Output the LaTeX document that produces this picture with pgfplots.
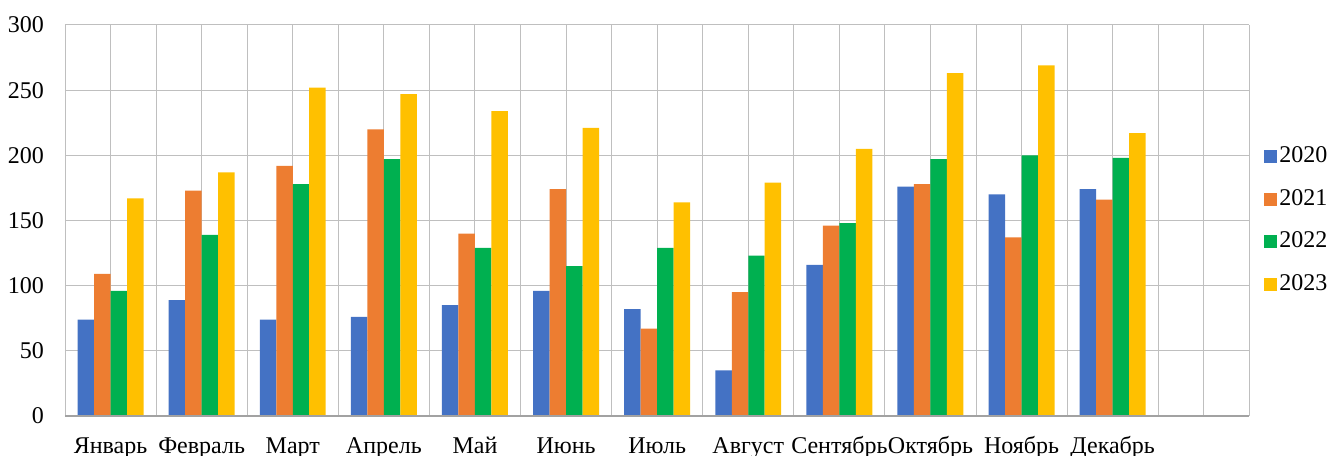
\documentclass[border=0pt]{standalone}
\usepackage{pgfplots}
\pgfplotsset{compat=1.18}
\usepackage{fontspec}
\setmainfont{Liberation Serif}

\definecolor{c20}{HTML}{4472C4}
\definecolor{c21}{HTML}{ED7D31}
\definecolor{c22}{HTML}{00B050}
\definecolor{c23}{HTML}{FFC000}
\definecolor{gridc}{HTML}{BFBFBF}

% x: 0 = Январь ... 11 = Декабрь (12 is the empty slot)
\pgfplotstableread{
x y20 y21 y22 y23
0  74 109  96 167
1  89 173 139 187
2  74 192 178 252
3  76 220 197 247
4  85 140 129 234
5  96 174 115 221
6  82  67 129 164
7  35  95 123 179
8 116 146 148 205
9 176 178 197 263
10 170 137 200 269
11 174 166 198 217
}\datatable

\begin{document}
\fontsize{24bp}{28bp}\selectfont
\begin{tikzpicture}
\path[use as bounding box] (-65bp,-40bp) rectangle (1268bp,416bp);
\begin{axis}[
    at={(0,0)}, anchor=south west,
    scale only axis,
    width=1184.3bp, height=391bp,
    xmin=-0.5, xmax=12.5,
    ymin=0, ymax=300,
    ytick={0,50,...,300},
    xtick={0,...,11},
    xticklabels={Январь,Февраль,Март,Апрель,Май,Июнь,Июль,Август,Сентябрь,Октябрь,Ноябрь,Декабрь},
    minor xtick={-0.5,0,...,12.5},
    major tick length=0pt, minor tick length=0pt,
    xmajorgrids=false, xminorgrids=true, ymajorgrids=true,
    grid style={gridc, line width=1pt},
    minor grid style={gridc, line width=1pt},
    axis line style={draw=none},
    axis x line*=bottom, axis y line*=left,
    ybar, bar width=0.181,
    xticklabel style={anchor=base, yshift=-37.3bp, font=\fontsize{24bp}{28bp}\selectfont},
    yticklabel style={anchor=east, xshift=-13bp, font=\fontsize{24bp}{28bp}\selectfont},
    /pgf/number format/assume math mode=true,
    legend style={at={(1,0.5)}, anchor=west, xshift=12bp, draw=none, fill=none,
        font=\fontsize{24bp}{28bp}\selectfont, row sep=19bp,
        /tikz/every even column/.append style={column sep=0bp}},
    legend cell align=left,
    legend image code/.code={\fill[#1] (0bp,-6.5bp) rectangle (13bp,6.5bp);},
    clip=false,
]
\addplot[ybar, fill=c20, draw=none, bar shift=-1.5*0.181] table[x=x, y=y20] {\datatable};
\addplot[ybar, fill=c21, draw=none, bar shift=-0.5*0.181] table[x=x, y=y21] {\datatable};
\addplot[ybar, fill=c22, draw=none, bar shift=0.5*0.181] table[x=x, y=y22] {\datatable};
\addplot[ybar, fill=c23, draw=none, bar shift=1.5*0.181] table[x=x, y=y23] {\datatable};
\legend{2020,2021,2022,2023}
\draw[gridc!85!black, line width=1.2pt] (axis cs:-0.5,0) -- (axis cs:12.5,0);
\end{axis}
\end{tikzpicture}
\end{document}
